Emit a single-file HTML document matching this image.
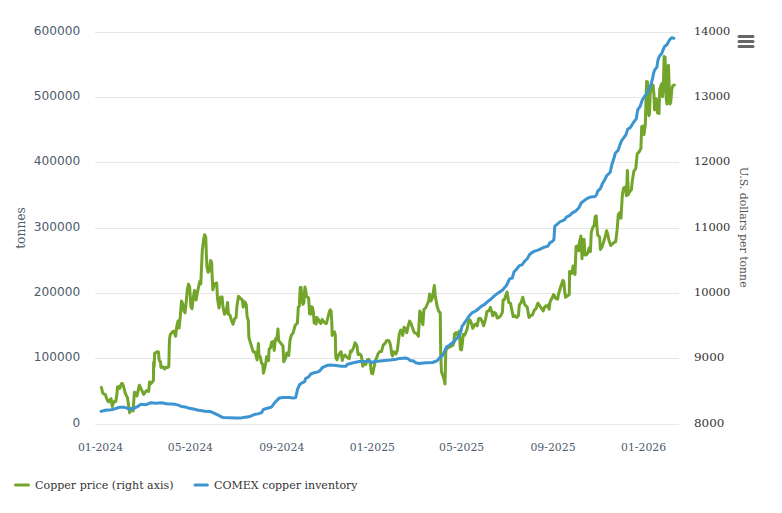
<!DOCTYPE html>
<html><head><meta charset="utf-8"><title>Copper price and COMEX copper inventory</title>
<style>html,body{margin:0;padding:0;background:#fff;}body{width:782px;height:513px;overflow:hidden;}svg{display:block;}</style>
</head><body>
<svg width="782" height="513" viewBox="0 0 782 513">
<rect x="0" y="0" width="782" height="513" fill="#ffffff"/>
<path d="M 95 32.5 L 679 32.5" stroke="#e6e6e6" stroke-width="1" fill="none"/>
<path d="M 95 97.5 L 679 97.5" stroke="#e6e6e6" stroke-width="1" fill="none"/>
<path d="M 95 162.5 L 679 162.5" stroke="#e6e6e6" stroke-width="1" fill="none"/>
<path d="M 95 228.5 L 679 228.5" stroke="#e6e6e6" stroke-width="1" fill="none"/>
<path d="M 95 293.5 L 679 293.5" stroke="#e6e6e6" stroke-width="1" fill="none"/>
<path d="M 95 358.5 L 679 358.5" stroke="#e6e6e6" stroke-width="1" fill="none"/>
<path d="M 95 424.5 L 679 424.5" stroke="#e6eaef" stroke-width="1" fill="none"/>
<text x="80.2" y="35.0" text-anchor="end" style="font-family:'DejaVu Sans',sans-serif;font-size:12px;fill:#4d5b6b" textLength="46.4" lengthAdjust="spacingAndGlyphs">600000</text>
<text x="80.2" y="100.0" text-anchor="end" style="font-family:'DejaVu Sans',sans-serif;font-size:12px;fill:#4d5b6b" textLength="46.4" lengthAdjust="spacingAndGlyphs">500000</text>
<text x="80.2" y="165.0" text-anchor="end" style="font-family:'DejaVu Sans',sans-serif;font-size:12px;fill:#4d5b6b" textLength="46.4" lengthAdjust="spacingAndGlyphs">400000</text>
<text x="80.2" y="231.0" text-anchor="end" style="font-family:'DejaVu Sans',sans-serif;font-size:12px;fill:#4d5b6b" textLength="46.4" lengthAdjust="spacingAndGlyphs">300000</text>
<text x="80.2" y="296.0" text-anchor="end" style="font-family:'DejaVu Sans',sans-serif;font-size:12px;fill:#4d5b6b" textLength="46.4" lengthAdjust="spacingAndGlyphs">200000</text>
<text x="80.2" y="361.0" text-anchor="end" style="font-family:'DejaVu Sans',sans-serif;font-size:12px;fill:#4d5b6b" textLength="46.4" lengthAdjust="spacingAndGlyphs">100000</text>
<text x="80.2" y="427.0" text-anchor="end" style="font-family:'DejaVu Sans',sans-serif;font-size:12px;fill:#4d5b6b" textLength="7.7" lengthAdjust="spacingAndGlyphs">0</text>
<text x="694" y="34.7" text-anchor="start" style="font-family:'DejaVu Serif',serif;font-size:11.5px;fill:#333333" textLength="36.4" lengthAdjust="spacingAndGlyphs">14000</text>
<text x="694" y="99.7" text-anchor="start" style="font-family:'DejaVu Serif',serif;font-size:11.5px;fill:#333333" textLength="36.4" lengthAdjust="spacingAndGlyphs">13000</text>
<text x="694" y="164.7" text-anchor="start" style="font-family:'DejaVu Serif',serif;font-size:11.5px;fill:#333333" textLength="36.4" lengthAdjust="spacingAndGlyphs">12000</text>
<text x="694" y="230.7" text-anchor="start" style="font-family:'DejaVu Serif',serif;font-size:11.5px;fill:#333333" textLength="36.4" lengthAdjust="spacingAndGlyphs">11000</text>
<text x="694" y="295.7" text-anchor="start" style="font-family:'DejaVu Serif',serif;font-size:11.5px;fill:#333333" textLength="36.4" lengthAdjust="spacingAndGlyphs">10000</text>
<text x="694" y="360.7" text-anchor="start" style="font-family:'DejaVu Serif',serif;font-size:11.5px;fill:#333333" textLength="30.4" lengthAdjust="spacingAndGlyphs">9000</text>
<text x="694" y="426.7" text-anchor="start" style="font-family:'DejaVu Serif',serif;font-size:11.5px;fill:#333333" textLength="30.4" lengthAdjust="spacingAndGlyphs">8000</text>
<text x="100.5" y="450.6" text-anchor="middle" style="font-family:'DejaVu Serif',serif;font-size:11.5px;fill:#4d5b6b" textLength="45.2" lengthAdjust="spacingAndGlyphs">01-2024</text>
<text x="190.4" y="450.6" text-anchor="middle" style="font-family:'DejaVu Serif',serif;font-size:11.5px;fill:#4d5b6b" textLength="45.2" lengthAdjust="spacingAndGlyphs">05-2024</text>
<text x="281.8" y="450.6" text-anchor="middle" style="font-family:'DejaVu Serif',serif;font-size:11.5px;fill:#4d5b6b" textLength="45.2" lengthAdjust="spacingAndGlyphs">09-2024</text>
<text x="372.4" y="450.6" text-anchor="middle" style="font-family:'DejaVu Serif',serif;font-size:11.5px;fill:#4d5b6b" textLength="45.2" lengthAdjust="spacingAndGlyphs">01-2025</text>
<text x="461.7" y="450.6" text-anchor="middle" style="font-family:'DejaVu Serif',serif;font-size:11.5px;fill:#4d5b6b" textLength="45.2" lengthAdjust="spacingAndGlyphs">05-2025</text>
<text x="553.0" y="450.6" text-anchor="middle" style="font-family:'DejaVu Serif',serif;font-size:11.5px;fill:#4d5b6b" textLength="45.2" lengthAdjust="spacingAndGlyphs">09-2025</text>
<text x="643.6" y="450.6" text-anchor="middle" style="font-family:'DejaVu Serif',serif;font-size:11.5px;fill:#4d5b6b" textLength="45.2" lengthAdjust="spacingAndGlyphs">01-2026</text>
<text x="0" y="0" transform="translate(25,228) rotate(-90)" text-anchor="middle" style="font-family:'DejaVu Serif',serif;font-size:13.2px;fill:#4d5b6b" textLength="41.6" lengthAdjust="spacingAndGlyphs">tonnes</text>
<text x="0" y="0" transform="translate(740,227.3) rotate(90)" text-anchor="middle" style="font-family:'DejaVu Serif',serif;font-size:11.5px;fill:#555555" textLength="120.6" lengthAdjust="spacingAndGlyphs">U.S. dollars per tonne</text>
<path d="M 101.3 387.4 L 101.8 388.9 L 102.6 392.8 L 103.7 394.0 L 105.3 394.4 L 106.5 398.3 L 107.6 401.0 L 108.8 401.8 L 110.0 399.8 L 111.1 398.7 L 112.3 406.4 L 113.1 403.7 L 114.3 401.4 L 115.8 401.4 L 117.0 393.6 L 117.4 387.0 L 118.6 386.6 L 119.7 388.5 L 121.3 383.8 L 122.4 383.5 L 123.6 386.6 L 125.3 393.4 L 127.5 397.8 L 129.6 412.7 L 131.8 408.3 L 133.1 410.9 L 134.4 392.2 L 136.2 393.0 L 137.0 396.0 L 139.3 385.2 L 140.9 388.3 L 143.7 394.5 L 146.4 390.6 L 148.7 391.4 L 149.5 382.0 L 151.0 383.6 L 153.4 380.5 L 153.6 362.6 L 154.1 366.7 L 154.7 353.2 L 155.9 352.6 L 157.7 351.7 L 158.5 352.0 L 159.1 359.6 L 159.7 361.1 L 160.6 362.0 L 160.9 367.5 L 162.0 366.7 L 163.2 367.2 L 164.7 369.0 L 165.6 367.2 L 167.9 367.5 L 168.8 366.7 L 169.3 345.0 L 169.6 338.6 L 170.3 334.5 L 172.7 331.6 L 173.9 331.0 L 175.6 336.3 L 176.8 326.3 L 178.0 321.0 L 179.1 328.1 L 180.3 316.3 L 181.5 301.1 L 182.7 303.4 L 183.8 310.5 L 185.0 312.8 L 186.2 302.3 L 187.3 289.4 L 188.5 284.1 L 189.7 287.0 L 190.9 307.0 L 192.0 308.7 L 193.2 298.8 L 194.4 290.6 L 195.5 291.7 L 196.1 299.9 L 197.3 292.9 L 198.4 287.8 L 199.7 281.6 L 200.8 283.9 L 201.6 265.9 L 202.3 250.3 L 203.9 237.8 L 204.7 234.7 L 205.8 237.8 L 206.3 253.4 L 207.0 267.5 L 208.1 272.2 L 209.4 270.6 L 210.6 260.5 L 211.7 262.8 L 212.0 272.1 L 212.8 290.0 L 214.3 283.8 L 216.7 283.0 L 217.5 298.6 L 219.0 308.0 L 220.6 297.0 L 222.1 297.0 L 222.9 306.4 L 224.5 314.2 L 226.0 312.6 L 227.6 302.5 L 228.4 314.2 L 229.9 315.0 L 231.5 320.4 L 233.0 324.3 L 234.6 318.9 L 236.1 317.3 L 236.9 306.4 L 238.5 296.3 L 240.0 297.9 L 242.4 300.2 L 243.2 307.2 L 244.7 301.7 L 246.3 304.8 L 247.1 316.5 L 248.3 320.4 L 248.9 337.8 L 250.1 341.6 L 252.0 347.9 L 253.3 351.7 L 255.2 352.3 L 257.1 360.0 L 258.4 343.5 L 259.0 355.5 L 260.3 356.8 L 261.5 363.1 L 262.8 364.4 L 263.4 373.2 L 264.7 368.2 L 266.0 361.8 L 266.6 356.8 L 268.5 360.6 L 269.1 349.2 L 270.4 347.9 L 271.6 342.2 L 272.9 341.6 L 274.2 350.4 L 275.4 339.0 L 276.7 339.7 L 278.0 328.9 L 278.6 340.3 L 280.5 342.8 L 283.0 346.0 L 283.7 361.8 L 285.6 358.0 L 286.8 353.0 L 288.7 355.5 L 290.0 340.3 L 291.3 335.3 L 293.2 332.7 L 295.1 325.6 L 297.4 323.1 L 298.3 307.2 L 299.3 306.3 L 300.2 287.6 L 301.1 287.6 L 302.1 300.7 L 303.0 304.4 L 303.9 302.6 L 304.9 287.1 L 305.8 290.4 L 306.3 296.0 L 307.2 297.0 L 308.6 297.9 L 309.6 313.8 L 310.5 314.2 L 311.0 306.8 L 312.4 307.2 L 313.3 311.9 L 314.2 323.1 L 315.2 317.5 L 316.1 324.1 L 317.0 317.5 L 318.4 319.5 L 319.6 322.0 L 320.8 323.5 L 322.2 319.5 L 323.6 321.5 L 325.0 323.0 L 326.4 323.5 L 327.8 318.0 L 329.2 312.0 L 330.2 309.8 L 331.1 311.2 L 331.8 322.0 L 332.2 335.5 L 333.0 333.0 L 334.4 331.8 L 335.3 335.0 L 335.8 357.4 L 337.0 359.8 L 338.8 354.5 L 341.1 351.6 L 342.3 360.4 L 343.5 356.3 L 345.2 355.1 L 347.0 357.4 L 349.3 358.6 L 350.5 351.0 L 351.6 351.6 L 353.4 348.1 L 355.1 342.8 L 356.9 345.7 L 358.1 354.5 L 359.8 353.9 L 361.3 355.7 L 362.2 360.9 L 362.7 366.2 L 363.9 363.9 L 365.7 364.4 L 367.4 359.8 L 368.6 359.2 L 370.4 363.9 L 371.5 373.2 L 372.7 373.8 L 373.9 368.0 L 375.6 359.8 L 376.8 357.4 L 378.0 353.9 L 379.7 351.6 L 381.5 351.6 L 383.2 345.1 L 385.0 343.4 L 386.7 340.5 L 388.5 340.5 L 389.1 340.9 L 390.5 345.0 L 391.8 354.6 L 392.5 355.9 L 393.9 351.8 L 395.9 353.9 L 397.3 350.5 L 399.3 334.1 L 400.7 330.0 L 402.0 331.4 L 402.7 335.5 L 404.1 327.3 L 405.5 328.6 L 406.8 332.7 L 408.2 325.9 L 409.6 321.1 L 410.9 323.2 L 412.3 327.3 L 414.3 332.7 L 416.4 333.4 L 418.4 336.2 L 419.8 310.9 L 421.2 313.6 L 421.8 320.5 L 422.9 324.6 L 423.9 309.5 L 425.9 307.5 L 427.3 304.1 L 428.6 301.4 L 429.6 294.0 L 431.0 301.0 L 432.6 297.0 L 434.3 285.4 L 435.3 296.0 L 437.0 305.7 L 438.6 311.0 L 440.3 313.0 L 440.7 354.6 L 441.5 372.0 L 443.9 378.5 L 445.0 383.9 L 445.8 352.0 L 446.6 348.4 L 448.6 347.6 L 450.7 346.5 L 452.9 345.2 L 453.9 342.5 L 454.5 334.0 L 456.1 332.6 L 457.7 335.2 L 459.3 331.0 L 460.4 349.5 L 461.5 350.0 L 462.6 341.1 L 463.1 334.4 L 464.7 335.2 L 466.8 330.0 L 468.9 320.6 L 469.9 319.8 L 471.4 323.2 L 472.8 328.4 L 474.3 325.1 L 475.8 324.1 L 477.2 325.8 L 478.7 318.6 L 480.6 318.6 L 482.1 321.2 L 483.6 325.8 L 485.5 319.3 L 487.0 311.4 L 488.9 310.8 L 490.4 307.4 L 491.9 312.4 L 492.8 315.8 L 494.3 312.4 L 495.8 313.4 L 497.2 318.0 L 498.7 317.6 L 500.6 315.9 L 502.4 312.4 L 503.1 300.2 L 504.5 299.6 L 505.5 296.2 L 507.0 292.0 L 508.8 302.5 L 510.5 303.4 L 512.3 312.2 L 513.2 316.6 L 514.9 315.7 L 516.7 317.5 L 518.4 315.7 L 519.3 305.2 L 521.1 302.5 L 522.8 297.3 L 524.6 304.3 L 526.0 306.1 L 527.2 306.9 L 529.0 317.5 L 530.7 315.7 L 532.5 314.8 L 534.2 310.4 L 536.0 308.7 L 537.7 303.4 L 538.0 303.2 L 539.7 305.8 L 541.4 308.3 L 543.2 310.9 L 544.4 307.5 L 545.7 305.8 L 547.0 306.6 L 548.3 304.9 L 549.2 309.2 L 550.0 302.3 L 550.9 299.8 L 552.2 298.0 L 553.5 294.6 L 554.3 295.5 L 555.2 297.6 L 556.5 298.9 L 557.7 298.9 L 558.6 293.8 L 559.9 289.5 L 561.2 285.2 L 562.9 280.4 L 563.8 281.7 L 564.6 290.3 L 565.5 297.2 L 566.8 296.3 L 568.0 295.5 L 569.3 294.6 L 569.6 271.4 L 571.8 273.5 L 573.1 266.0 L 574.0 266.2 L 575.0 274.5 L 576.1 246.5 L 577.7 246.0 L 578.7 250.8 L 579.3 243.0 L 580.9 236.0 L 582.0 258.8 L 583.0 239.4 L 584.1 239.4 L 585.0 255.0 L 586.3 255.0 L 587.9 252.6 L 589.0 248.0 L 590.4 251.6 L 591.3 232.3 L 592.8 227.4 L 594.2 225.4 L 595.2 216.7 L 596.2 215.8 L 596.8 224.5 L 597.6 235.0 L 599.6 237.0 L 600.4 249.5 L 601.9 247.2 L 603.5 242.5 L 605.0 237.1 L 606.6 230.8 L 607.7 233.9 L 608.9 240.2 L 610.8 245.5 L 613.8 242.6 L 615.7 241.6 L 617.1 229.9 L 618.3 214.3 L 620.2 212.4 L 621.0 218.2 L 622.2 196.8 L 623.5 188.0 L 625.5 187.0 L 626.4 195.8 L 627.4 170.5 L 628.4 194.8 L 629.4 191.9 L 631.3 190.0 L 632.3 181.2 L 633.8 171.4 L 635.8 168.5 L 637.2 153.9 L 639.1 151.9 L 640.9 148.5 L 641.7 126.7 L 643.2 126.0 L 644.0 134.5 L 645.3 124.5 L 646.6 81.4 L 647.6 82.1 L 648.0 95.3 L 648.8 115.7 L 649.5 114.2 L 650.2 93.8 L 651.7 86.5 L 653.1 85.0 L 653.9 93.8 L 654.6 109.9 L 655.3 98.2 L 656.8 99.6 L 657.5 112.8 L 659.0 113.5 L 659.7 89.4 L 661.2 85.0 L 661.9 83.6 L 662.6 96.7 L 663.4 86.5 L 664.1 56.6 L 665.1 57.3 L 665.5 79.2 L 666.3 99.6 L 667.0 104.0 L 667.7 66.1 L 668.5 65.3 L 669.2 88.0 L 669.9 104.0 L 670.7 102.6 L 671.8 89.4 L 672.8 85.8 L 674.3 85.0" stroke="#72a52a" stroke-width="3" fill="none" stroke-linejoin="round" stroke-linecap="round"/>
<path d="M 101.0 411.4 L 105.2 410.3 L 111.4 409.8 L 116.5 408.3 L 119.6 407.3 L 124.7 407.3 L 127.7 408.3 L 130.3 409.3 L 133.9 408.3 L 138.0 406.3 L 141.0 404.2 L 146.2 404.7 L 150.8 402.7 L 156.4 403.2 L 161.5 402.7 L 166.6 403.7 L 175.0 404.3 L 178.2 405.1 L 181.3 406.4 L 185.3 406.9 L 187.9 407.9 L 193.5 408.9 L 197.1 410.0 L 200.7 410.5 L 204.8 411.3 L 209.9 411.5 L 213.0 412.7 L 217.1 414.6 L 220.6 416.4 L 223.2 417.6 L 229.3 417.8 L 235.5 418.1 L 240.6 418.1 L 243.7 417.4 L 250.1 416.5 L 253.9 414.6 L 258.9 413.6 L 261.5 412.7 L 263.4 409.5 L 266.5 408.5 L 271.6 407.0 L 274.8 402.5 L 279.2 398.1 L 283.0 397.5 L 289.4 397.5 L 293.2 398.1 L 295.7 397.5 L 297.6 389.2 L 299.5 384.8 L 302.0 382.9 L 304.6 381.6 L 305.8 378.4 L 308.4 377.2 L 310.9 374.0 L 314.1 372.7 L 317.2 372.1 L 319.8 370.8 L 322.3 367.7 L 326.1 365.8 L 329.9 365.1 L 335.8 365.6 L 341.7 366.2 L 345.8 366.2 L 347.5 364.2 L 353.4 362.7 L 359.2 361.5 L 365.1 361.5 L 369.8 360.9 L 372.1 362.7 L 374.4 361.5 L 380.3 360.9 L 385.0 360.4 L 390.5 360.0 L 395.9 359.3 L 400.0 358.4 L 405.5 358.0 L 408.2 358.7 L 410.2 360.7 L 413.0 360.7 L 415.7 362.8 L 419.1 363.4 L 425.9 362.8 L 432.7 362.5 L 437.3 360.6 L 440.0 357.3 L 442.7 355.4 L 444.8 350.8 L 446.4 347.1 L 449.1 345.4 L 451.8 343.3 L 454.0 341.7 L 456.1 339.0 L 458.8 336.3 L 460.9 331.5 L 462.0 326.4 L 464.2 323.4 L 466.3 320.2 L 468.9 316.3 L 471.9 312.9 L 475.8 311.0 L 478.7 308.5 L 481.6 306.1 L 485.0 304.1 L 487.5 301.7 L 491.4 298.8 L 494.3 295.9 L 498.2 292.9 L 502.6 290.0 L 506.5 285.4 L 509.6 278.9 L 512.3 278.0 L 514.0 271.8 L 516.7 269.2 L 519.3 265.7 L 521.9 264.8 L 524.6 261.3 L 527.2 258.7 L 529.8 254.3 L 533.3 251.7 L 538.6 249.9 L 543.9 247.3 L 547.4 246.4 L 548.6 245.0 L 550.0 242.6 L 552.1 241.6 L 553.9 239.8 L 554.8 226.2 L 556.8 224.6 L 559.6 222.0 L 564.3 219.8 L 566.4 217.1 L 570.5 215.0 L 571.6 213.4 L 575.9 210.9 L 578.7 208.0 L 581.4 202.7 L 586.8 198.6 L 589.6 197.3 L 595.0 196.6 L 596.6 194.6 L 597.8 191.1 L 600.5 188.4 L 601.8 185.4 L 602.3 183.7 L 604.0 181.1 L 606.7 175.8 L 610.2 172.3 L 611.9 164.4 L 613.7 159.1 L 615.4 153.0 L 618.1 150.4 L 619.8 145.1 L 621.6 140.7 L 624.2 137.2 L 626.0 134.6 L 627.7 129.3 L 630.4 127.5 L 633.0 123.2 L 635.6 119.6 L 636.2 119.0 L 637.8 109.6 L 640.1 106.5 L 642.3 100.0 L 644.5 96.5 L 646.6 94.0 L 648.8 89.0 L 650.9 85.0 L 652.4 79.2 L 653.9 71.9 L 655.3 69.0 L 656.8 67.5 L 658.2 59.0 L 659.7 55.8 L 661.7 53.5 L 663.0 50.2 L 664.6 46.4 L 666.9 44.8 L 668.5 41.7 L 670.0 39.3 L 671.6 37.8 L 673.9 38.3" stroke="#3c94d0" stroke-width="3" fill="none" stroke-linejoin="round" stroke-linecap="round"/>
<path d="M 15.5 485 L 28.5 485" stroke="#72a52a" stroke-width="3" stroke-linecap="round" fill="none"/>
<text x="35" y="488.8" style="font-family:'DejaVu Serif',serif;font-size:11.5px;fill:#333333" textLength="138.5" lengthAdjust="spacingAndGlyphs">Copper price (right axis)</text>
<path d="M 195 485 L 207.3 485" stroke="#3c94d0" stroke-width="3" stroke-linecap="round" fill="none"/>
<text x="214" y="488.8" style="font-family:'DejaVu Serif',serif;font-size:11.5px;fill:#333333" textLength="143.6" lengthAdjust="spacingAndGlyphs">COMEX copper inventory</text>
<path d="M 739 36.5 L 753 36.5 M 739 41.5 L 753 41.5 M 739 46.5 L 753 46.5" stroke="#666666" stroke-width="3" stroke-linecap="round" fill="none"/>
</svg>
</body></html>
